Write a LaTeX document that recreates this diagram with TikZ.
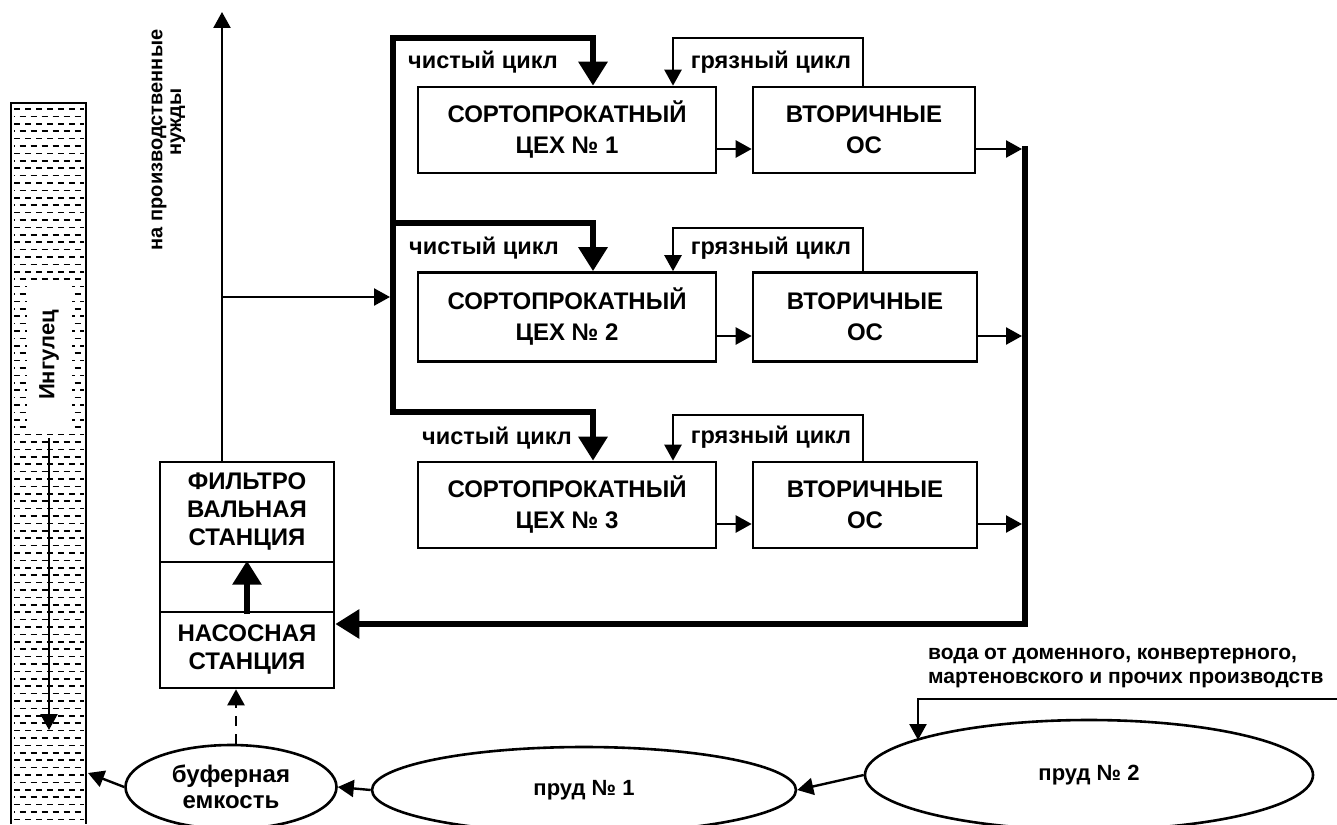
\documentclass[tikz,border=0pt]{standalone}
\usepackage{fontspec}
\setmainfont{Liberation Sans}
\usetikzlibrary{arrows.meta,shapes.geometric,calc}
\begin{document}
\begin{tikzpicture}[x=1pt,y=-1pt,
  wire/.style={line width=2.4pt},
  heavy/.style={line width=6pt,line cap=rect},
  ta/.style={-{Triangle[length=16pt,width=17pt]}},
  TA/.style={-{Triangle[length=24pt,width=28pt]}},
  box/.style={draw,line width=2.6pt,rectangle,inner sep=0pt,align=center,font=\fontsize{24}{31}\selectfont\bfseries},
  lbl/.style={font=\fontsize{20}{24}\selectfont\bfseries,inner sep=0pt},
  cyc/.style={font=\fontsize{23.5}{27}\selectfont\bfseries,inner sep=0pt},
  pond/.style={draw,ellipse,line width=2.6pt,inner sep=0pt,align=center,font=\fontsize{22}{26}\selectfont\bfseries},
]
\useasboundingbox (0,0) rectangle (1337,824);

% river
\foreach \i in {0,...,96} {
  \pgfmathsetmacro\yy{109+7.4*\i}
  \pgfmathsetmacro\ph{mod(\i,2)*5.5}
  \draw[line width=1.6pt,dash pattern=on 6pt off 5pt,dash phase=\ph pt] (14,\yy) -- (84,\yy);
}
\draw[line width=1.8pt] (11,824) -- (11,103) -- (86,103) -- (86,824);
\node[lbl,rotate=90,fill=white,minimum width=150pt,minimum height=45pt,font=\fontsize{22}{26}\selectfont\bfseries] (ing) at (49,355) {Ингулец};
\coordinate (rb) at (52,730);
\draw[wire,ta,shorten <=8pt] (ing.west) -- (ing.west |- rb);

% boxes
\node[box,minimum width=298pt,minimum height=86pt] (cex1) at (567,130) {СОРТОПРОКАТНЫЙ\\ЦЕХ № 1};
\node[box,minimum width=222pt,minimum height=86pt] (vt1) at (864,130) {ВТОРИЧНЫЕ\\ОС};
\node[box,minimum width=298pt,minimum height=89pt] (cex2) at (567,317) {СОРТОПРОКАТНЫЙ\\ЦЕХ № 2};
\node[box,minimum width=224pt,minimum height=89pt] (vt2) at (865,317) {ВТОРИЧНЫЕ\\ОС};
\node[box,minimum width=298pt,minimum height=86pt] (cex3) at (567,505) {СОРТОПРОКАТНЫЙ\\ЦЕХ № 3};
\node[box,minimum width=224pt,minimum height=86pt] (vt3) at (865,505) {ВТОРИЧНЫЕ\\ОС};

\node[box,minimum width=174pt,minimum height=100pt,font=\fontsize{24}{28}\selectfont\bfseries] (filt) at (247,512) {ФИЛЬТРО\\ВАЛЬНАЯ\\СТАНЦИЯ};
\node[box,minimum width=174pt,minimum height=50pt] (mid) at (247,587) {};
\node[box,minimum width=174pt,minimum height=76pt,font=\fontsize{24}{28}\selectfont\bfseries] (nas) at (247,650) {НАСОСНАЯ\\СТАНЦИЯ};

% ponds
\node[pond,minimum width=211pt,minimum height=84pt,font=\fontsize{24}{26}\selectfont\bfseries] (buf) at (231,787) {буферная\\емкость};
\node[pond,minimum width=424pt,minimum height=86pt] (p1) at (584,790) {пруд № 1};
\node[pond,minimum width=448pt,minimum height=110pt] (p2) at (1089,775) {пруд № 2};

% helper coordinates
\coordinate (cx) at (593,0);
\coordinate (dx) at (673,0);
\coordinate (dr) at (863,0);
\coordinate (tx) at (393,0);
\coordinate (rx) at (1025,0);
\coordinate (t1) at (393,38);
\coordinate (t2) at (393,223);
\coordinate (t3) at (393,412);
\coordinate (d1) at (863,38);
\coordinate (d2) at (863,228);
\coordinate (d3) at (863,415);

% clean cycle
\draw[heavy,TA] (t3) -- (t1) -| (cx |- cex1.north);
\draw[heavy,TA] (t2) -| (cx |- cex2.north);
\draw[heavy,TA] (t3) -| (cx |- cex3.north);
\node[cyc] at (483,62) {чистый цикл};
\node[cyc] at (484,248) {чистый цикл};
\node[cyc] at (497,438) {чистый цикл};

% dirty cycle
\draw[wire,ta] (dr |- vt1.north) -- (d1) -| (dx |- cex1.north);
\draw[wire,ta] (dr |- vt2.north) -- (d2) -| (dx |- cex2.north);
\draw[wire,ta] (dr |- vt3.north) -- (d3) -| (dx |- cex3.north);
\node[cyc] at (771,62) {грязный цикл};
\node[cyc] at (771,248) {грязный цикл};
\node[cyc] at (771,437) {грязный цикл};

% between boxes
\draw[wire,ta] ([yshift=-19pt]cex1.east) -- ([yshift=-19pt]vt1.west);
\draw[wire,ta] ([yshift=-19pt]cex2.east) -- ([yshift=-19pt]vt2.west);
\draw[wire,ta] ([yshift=-19pt]cex3.east) -- ([yshift=-19pt]vt3.west);

% outputs
\coordinate (o1) at ([yshift=-19pt]vt1.east);
\coordinate (o2) at ([yshift=-19pt]vt2.east);
\coordinate (o3) at ([yshift=-19pt]vt3.east);
\draw[wire,ta,shorten >=3pt] (o1) -- (rx |- o1);
\draw[wire,ta,shorten >=3pt] (o2) -- (rx |- o2);
\draw[wire,ta,shorten >=3pt] (o3) -- (rx |- o3);
\coordinate (ret) at ([yshift=26pt]nas.east);
\draw[heavy,TA] (rx |- o1) -- (rx |- ret) -- (ret);

% pump -> filter
\draw[heavy,TA] (nas.north) -- (mid.north);

% production needs
\coordinate (up) at (222,12);
\coordinate (br) at (222,297);
\draw[wire,ta] (up |- filt.north) -- (up);
\draw[wire,ta,shorten >=3pt] (br) -- (tx |- br);
\node[lbl,rotate=90] at (159,140) {на производственные};
\node[lbl,rotate=90] at (178,122) {нужды};

% bottom
\draw[wire,ta,dash pattern=on 10pt off 8pt] ([xshift=5pt]buf.north) -- ([xshift=5pt]buf.north |- nas.south);
\coordinate (rv) at (88,773);
\draw[wire,ta] (buf.west) -- (rv);
\draw[wire,ta] (p1.west) -- (buf.east);
\draw[wire,ta] (p2.west) -- (p1.east);
\coordinate (in) at (1337,699);
\coordinate (inx) at (918,740);
\draw[wire,ta] (in) -| (inx);
\node[lbl,anchor=west,align=left,font=\fontsize{21}{24}\selectfont\bfseries] at (928,668) {вода от доменного, конвертерного,\\мартеновского и прочих производств};
\end{tikzpicture}
\end{document}
